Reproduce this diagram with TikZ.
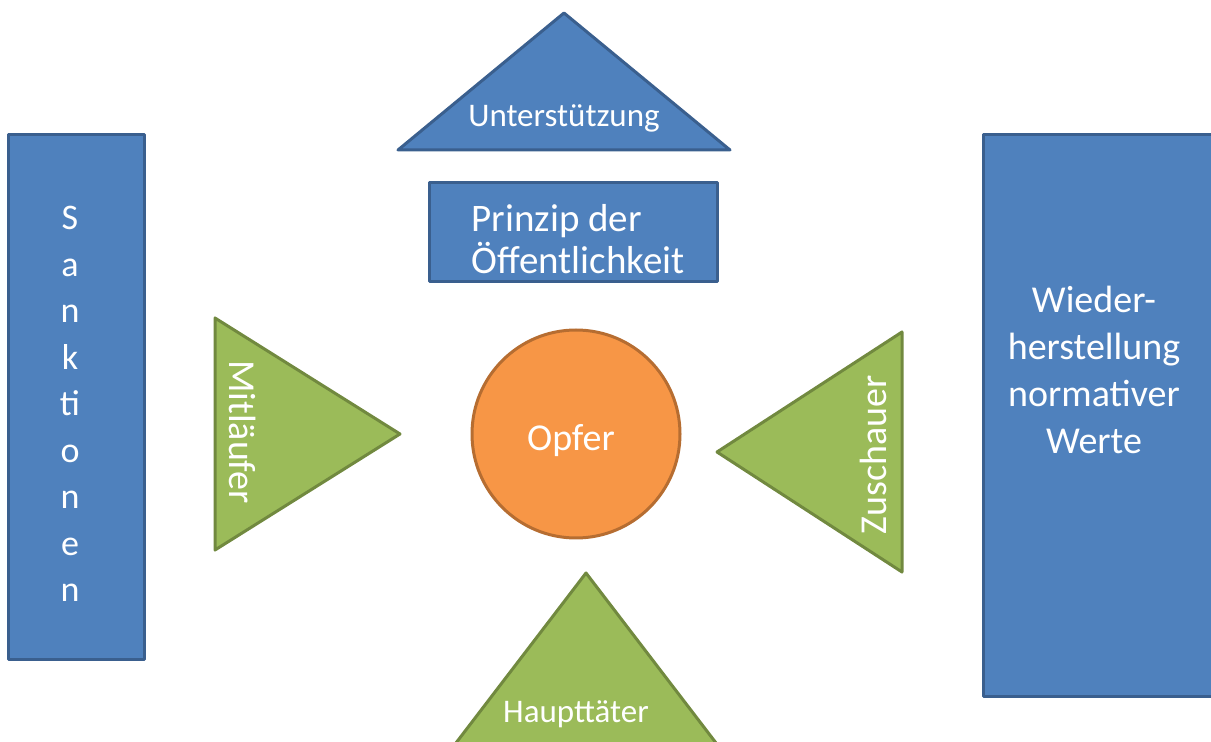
\documentclass[tikz,border=0pt]{standalone}
\usepackage{fontspec}
\setmainfont{Carlito}
\definecolor{boxblue}{HTML}{4F81BD}
\definecolor{boxblueline}{HTML}{3A5F8E}
\definecolor{rolegreen}{HTML}{9BBB59}
\definecolor{rolegreenline}{HTML}{71893F}
\definecolor{victimorange}{HTML}{F79646}
\definecolor{victimorangeline}{HTML}{B66D31}
\begin{document}
\begin{tikzpicture}[x=1pt,y=1pt,
    blueshape/.style={fill=boxblue,draw=boxblueline,line width=3pt,line join=round},
    greenshape/.style={fill=rolegreen,draw=rolegreenline,line width=3pt,line join=round},
    lbl/.style={text=white,inner sep=0pt,align=center}]
    \useasboundingbox (0,0) rectangle (1211,742);
    \clip (0,0) rectangle (1211,742);

    % blue frame
    \draw[blueshape] (8,82) rectangle (144,607);
    \draw[blueshape] (983,45) rectangle (1225,607);
    \draw[blueshape] (564,729) -- (730,592) -- (398,592) -- cycle;
    \draw[blueshape] (429,460) rectangle (717,559);

    % roles round the victim
    \draw[greenshape] (215,424) -- (400,308) -- (215,192) -- cycle;
    \draw[greenshape] (902,410) -- (902,170) -- (717,290) -- cycle;
    \draw[greenshape] (586,169) -- (752,-48) -- (420,-48) -- cycle;
    \draw[fill=victimorange,draw=victimorangeline,line width=3pt] (576,308) circle (104);

    \node[lbl,font=\fontsize{36}{46.5}\selectfont] (sanktionen) at (70,338) {S\\a\\n\\k\\ti\\o\\n\\e\\n};
    \node[lbl,font=\fontsize{38}{47}\selectfont] (werte) at (1094,372) {Wieder-\\herstellung\\normativer\\Werte};
    \node[lbl,font=\fontsize{33}{38}\selectfont] (unterstuetzung) at (564,624) {Unterstützung};
    \node[lbl,align=left,font=\fontsize{39}{42}\selectfont] (prinzip) at (578,503) {Prinzip der\\Öffentlichkeit};
    \node[lbl,font=\fontsize{38}{46}\selectfont] (opfer) at (571,301) {Opfer};
    \node[lbl,rotate=-90,font=\fontsize{38}{44}\selectfont] (mitlaeufer) at (243,310) {Mitläufer};
    \node[lbl,rotate=90,font=\fontsize{38}{44}\selectfont] (zuschauer) at (873,287) {Zuschauer};
    \node[lbl,font=\fontsize{33}{38}\selectfont] (haupttaeter) at (576,28) {Haupttäter};
\end{tikzpicture}
\end{document}
